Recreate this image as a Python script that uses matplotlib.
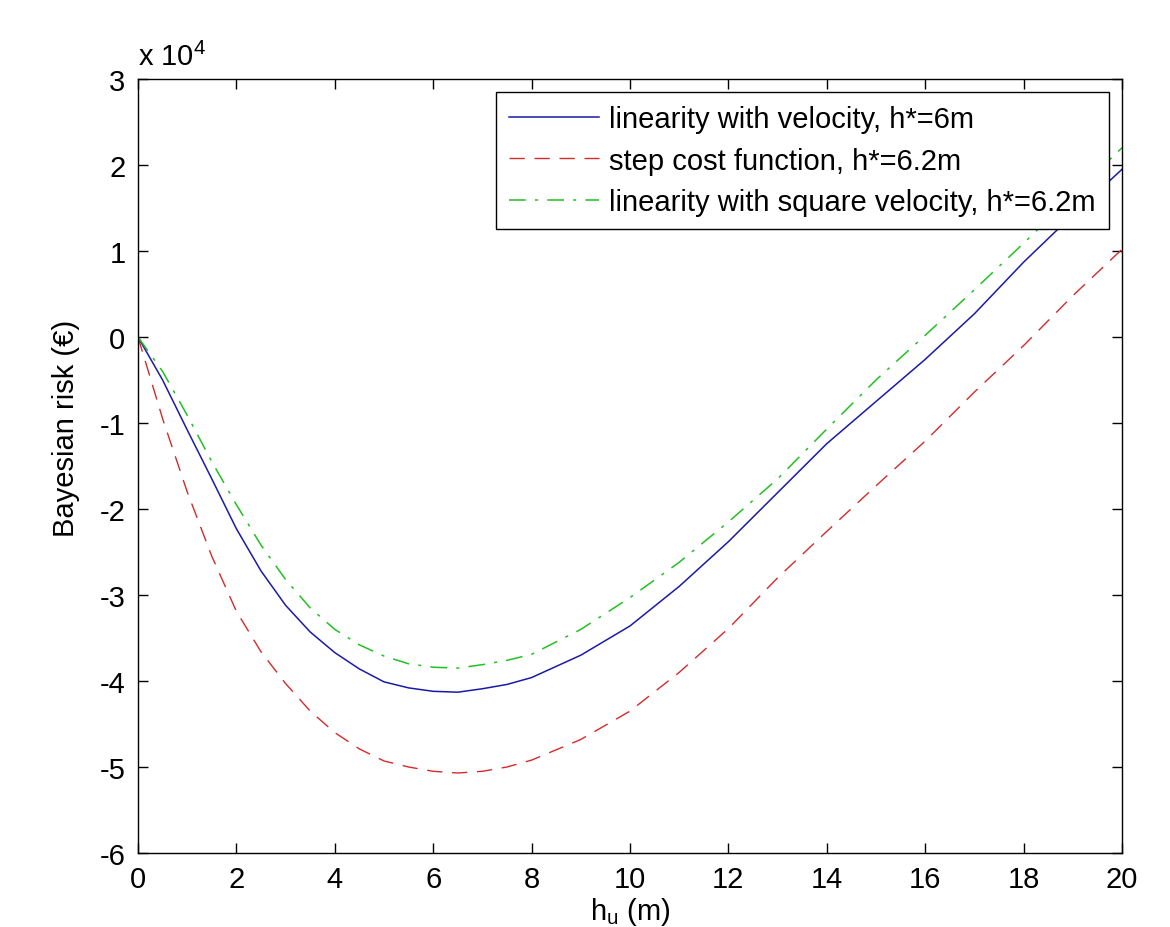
import matplotlib
matplotlib.use("Agg")
import matplotlib.pyplot as plt
from matplotlib.ticker import FuncFormatter

# Data (Bayesian risk in units of 1e4 EUR)
h = [0, 0.5, 1, 1.5, 2, 2.5, 3, 3.5, 4, 4.5, 5, 5.5, 6, 6.5, 7, 7.5, 8,
     9, 10, 11, 12, 13, 14, 15, 16, 17, 18, 19, 20]
risk_velocity = [0, -0.50, -1.08, -1.65, -2.23, -2.72, -3.12, -3.43, -3.67, -3.86,
                 -4.01, -4.08, -4.12, -4.13, -4.09, -4.04, -3.96,
                 -3.70, -3.36, -2.90, -2.38, -1.81, -1.24, -0.75, -0.26, 0.27, 0.87, 1.42, 1.95]
risk_step = [0, -0.95, -1.80, -2.55, -3.19, -3.66, -4.03, -4.35, -4.60, -4.79,
             -4.93, -5.00, -5.05, -5.07, -5.05, -5.00, -4.92,
             -4.68, -4.35, -3.90, -3.39, -2.80, -2.26, -1.73, -1.21, -0.64, -0.10, 0.48, 1.02]
risk_square = [0, -0.40, -0.91, -1.45, -1.95, -2.42, -2.82, -3.15, -3.40, -3.58,
               -3.71, -3.80, -3.84, -3.85, -3.81, -3.76, -3.69,
               -3.40, -3.03, -2.62, -2.15, -1.65, -1.07, -0.50, 0.02, 0.55, 1.09, 1.65, 2.20]
SCALE = 1e4
labels = ["linearity with velocity, h*=6m",
          "step cost function, h*=6.2m",
          "linearity with square velocity, h*=6.2m"]
xticks = list(range(0, 21, 2))
yticks = list(range(-6, 4))

plt.rcParams['font.family'] = ['Liberation Sans', 'DejaVu Sans']
plt.rcParams['mathtext.fontset'] = 'custom'
plt.rcParams['mathtext.rm'] = 'Liberation Sans'
plt.rcParams['mathtext.it'] = 'Liberation Sans:italic'
plt.rcParams['mathtext.bf'] = 'Liberation Sans:bold'
FS = 21

W, H = 1170, 928
L, R, T, B = 138, 1122, 80, 854
fig = plt.figure(figsize=(W/100, H/100), dpi=100)
ax = fig.add_axes([L/W, 1-B/H, (R-L)/W, (B-T)/H])

ax.plot(h, [v*SCALE for v in risk_velocity], color='#1a1aa8', lw=1.1, label=labels[0])
ax.plot(h, [v*SCALE for v in risk_step], color='#d42a2a', lw=1.0, dashes=(11, 7), label=labels[1])
ax.plot(h, [v*SCALE for v in risk_square], color='#22c022', lw=1.1, dashes=(11, 6, 2, 6), label=labels[2])

ax.set_xlim(0, 20)
ax.set_ylim(-6*SCALE, 3*SCALE)
ax.set_xticks(xticks)
ax.set_yticks([t*SCALE for t in yticks])
ax.yaxis.set_major_formatter(FuncFormatter(lambda v, p: f"{v/SCALE:g}"))
ax.tick_params(direction='in', top=True, right=True, length=7, width=1, labelsize=FS, pad=9)
for s in ax.spines.values():
    s.set_linewidth(1.0)

fig.text(L/W, 1-66/H, r"x 10$^{4}$", fontsize=FS, ha='left', va='baseline')
ax.set_ylabel("Bayesian risk (€)", fontsize=FS)
ax.yaxis.set_label_coords((66-L)/(R-L), (B-428)/(B-T))
ax.yaxis.label.set_va('center')
ax.set_xlabel(r"h$_\mathrm{u}$ (m)", fontsize=FS)
ax.xaxis.set_label_coords(0.5, -(896-B)/(B-T))
ax.xaxis.label.set_va('top')

leg = ax.legend(loc='upper right', fontsize=FS, frameon=True, fancybox=False,
                edgecolor='black', framealpha=1, handlelength=3.1, handletextpad=0.35,
                borderaxespad=0.45, borderpad=0.45, labelspacing=0.46)
leg.get_frame().set_linewidth(1.0)

fig.savefig("out.png", dpi=100)
